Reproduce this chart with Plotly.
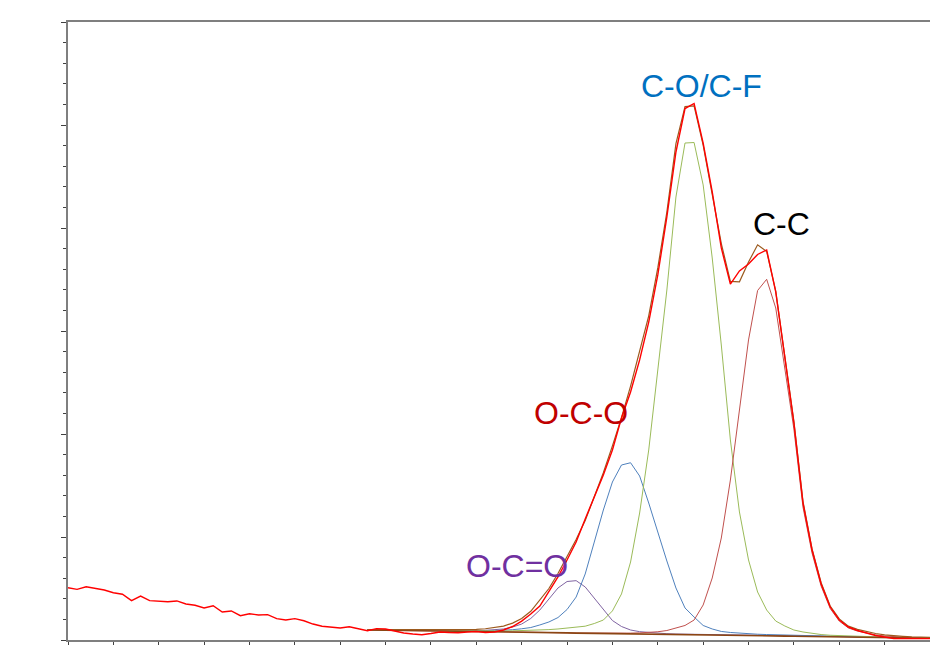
import plotly.graph_objects as go

# Binding energy grid (eV), 0.2 eV step, left = high BE
be = [300.0, 299.8, 299.6, 299.4, 299.2, 299.0, 298.8, 298.6, 298.4, 298.2,
      298.0, 297.8, 297.6, 297.4, 297.2, 297.0, 296.8, 296.6, 296.4, 296.2,
      296.0, 295.8, 295.6, 295.4, 295.2, 295.0, 294.8, 294.6, 294.4, 294.2,
      294.0, 293.8, 293.6, 293.4, 293.2, 293.0, 292.8, 292.6, 292.4, 292.2,
      292.0, 291.8, 291.6, 291.4, 291.2, 291.0, 290.8, 290.6, 290.4, 290.2,
      290.0, 289.8, 289.6, 289.4, 289.2, 289.0, 288.8, 288.6, 288.4, 288.2,
      288.0, 287.8, 287.6, 287.4, 287.2, 287.0, 286.8, 286.6, 286.4, 286.2,
      286.0, 285.8, 285.6, 285.4, 285.2, 285.0, 284.8, 284.6, 284.4, 284.2,
      284.0, 283.8, 283.6, 283.4, 283.2, 283.0, 282.8, 282.6, 282.4, 282.2,
      282.0, 281.8, 281.6, 281.4, 281.2, 281.0]

# Measured spectrum (counts)
raw = [508, 492, 517, 502, 485, 459, 444, 382, 427, 382,
       379, 372, 379, 350, 337, 311, 333, 272, 282, 236,
       255, 243, 246, 207, 194, 207, 187, 155, 133, 126,
       117, 129, 112, 90, 110, 107, 87, 68, 58, 51,
       63, 78, 73, 71, 78, 83, 73, 78, 97, 131,
       184, 252, 330, 466, 612, 777, 951, 1175, 1398, 1602,
       1845, 2155, 2408, 2719, 3087, 3544, 4107, 4738, 5160, 5209,
       4825, 4350, 3806, 3456, 3583, 3651, 3743, 3787, 3379, 2767,
       2107, 1330, 874, 544, 320, 194, 126, 92, 68, 44,
       29, 15, 15, 15, 15, 13]

# Fit region energies (from 293.4 eV down to 281.0 eV)
fit_be = be[33:]

background = [97, 96, 94, 93, 92, 90, 89, 88, 86, 85,
              84, 83, 82, 80, 79, 78, 76, 75, 74, 73,
              71, 70, 69, 67, 66, 65, 63, 62, 61, 59,
              58, 57, 56, 54, 53, 51, 50, 49, 48, 47,
              45, 44, 43, 42, 40, 39, 38, 36, 35, 34,
              32, 31, 30, 28, 27, 26, 24, 23, 22, 20,
              19, 18, 17]

envelope = [102, 102, 102, 102, 102, 102, 102, 102, 102, 102,
            102, 101, 104, 109, 121, 135, 164, 208, 279, 385,
            500, 645, 805, 975, 1159, 1391, 1624, 1885, 2159, 2465,
            2800, 3147, 3612, 4155, 4819, 5179, 5185, 4804, 4327, 3849,
            3482, 3478, 3669, 3837, 3772, 3386, 2753, 2123, 1347, 884,
            556, 330, 205, 135, 103, 80, 63, 50, 41, 36,
            31, 27, 26]

oco2 = [100, 99, 97, 96, 95, 93, 92, 91, 89, 87,
        88, 89, 91, 94, 99, 107, 126, 155, 209, 291,
        398, 505, 568, 576, 515, 408, 291, 189, 131, 97,
        81, 72, 65, 61, 58, 56, 54, 53, 51, 50,
        49, 48, 47, 46, 45, 44, 43, 41, 40, 38,
        36, 35, 33, 32, 30, 29, 27, 26, 25, 23,
        22, 21, 19]

oco = [100, 99, 97, 96, 95, 93, 92, 91, 89, 88,
       87, 86, 87, 88, 91, 94, 100, 109, 121, 146,
       175, 218, 296, 417, 641, 951, 1262, 1534, 1699, 1721,
       1592, 1330, 1039, 767, 505, 311, 223, 141, 107, 83,
       73, 65, 60, 56, 53, 50, 48, 45, 43, 41,
       39, 37, 35, 33, 31, 29, 28, 26, 25, 23,
       22, 20, 19]

co_cf = [100, 99, 97, 96, 95, 93, 92, 91, 89, 88,
         87, 86, 85, 85, 86, 87, 89, 91, 94, 97,
         101, 107, 114, 121, 134, 160, 194, 282, 447, 757,
         1233, 1845, 2621, 3398, 4301, 4825, 4830, 4418, 3709, 2864,
         1942, 1243, 777, 466, 291, 184, 136, 97, 78, 63,
         53, 46, 42, 38, 35, 32, 30, 28, 26, 24,
         22, 20, 18]

cc = [98, 97, 95, 94, 93, 91, 90, 89, 87, 86,
      85, 84, 83, 81, 80, 79, 77, 76, 75, 74,
      72, 71, 70, 68, 67, 67, 66, 66, 66, 67,
      69, 73, 80, 92, 114, 141, 194, 340, 602, 990,
      1553, 2252, 2913, 3393, 3502, 3223, 2641, 2049, 1291, 845,
      524, 306, 184, 117, 87, 68, 50, 39, 31, 26,
      22, 20, 18]

labels = ["C-O/C-F", "C-C", "O-C-O", "O-C=O"]
label_be = [286.03, 284.27, 288.69, 290.10]
label_counts = [5379, 4039, 2204, 723]
label_colors = ["#0070C0", "#000000", "#C00000", "#7030A0"]

fig = go.Figure()

comp_styles = [("O-C=O", oco2, "#8064A2"), ("O-C-O", oco, "#4F81BD"),
               ("C-O/C-F", co_cf, "#9BBB59"), ("C-C", cc, "#C0504D")]
for name, vals, col in comp_styles:
    fig.add_trace(go.Scatter(x=fit_be, y=vals, mode="lines", name=name,
                             line=dict(color=col, width=1)))

fig.add_trace(go.Scatter(x=fit_be, y=background, mode="lines", name="Background",
                         line=dict(color="#8B4513", width=1.6)))
fig.add_trace(go.Scatter(x=fit_be, y=envelope, mode="lines", name="Envelope",
                         line=dict(color="#9C5A1E", width=1.2)))
fig.add_trace(go.Scatter(x=be, y=raw, mode="lines", name="Raw",
                         line=dict(color="#FF0000", width=1.4)))

for t, xv, yv, c in zip(labels, label_be, label_counts, label_colors):
    fig.add_annotation(x=xv, y=yv, text=t, showarrow=False,
                       font=dict(family="Liberation Sans, Arial", size=32, color=c),
                       xanchor="center", yanchor="middle")

fig.update_layout(
    width=930, height=645,
    margin=dict(l=68, r=0, t=22, b=5),
    paper_bgcolor="white", plot_bgcolor="white",
    showlegend=False,
    xaxis=dict(range=[300, 281], dtick=1, tick0=300, showgrid=False, zeroline=False,
               showline=True, linecolor="#7f7f7f", linewidth=1.5, mirror=True,
               ticks="outside", ticklen=5, tickcolor="#404040", tickwidth=1.2,
               showticklabels=False),
    yaxis=dict(range=[0, 6000], dtick=1000, tick0=0, showgrid=False, zeroline=False,
               showline=True, linecolor="#7f7f7f", linewidth=1.5,
               ticks="outside", ticklen=5, tickcolor="#404040", tickwidth=1.2,
               minor=dict(dtick=200, ticks="outside", ticklen=3, tickcolor="#404040", tickwidth=1),
               showticklabels=False),
)

fig.write_html("out.html")
